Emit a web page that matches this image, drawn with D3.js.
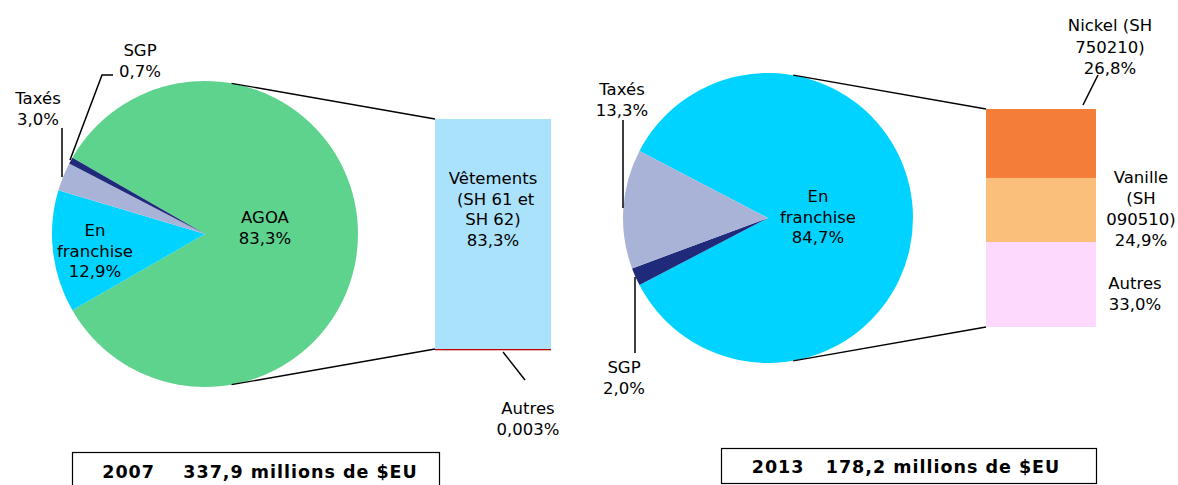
<!DOCTYPE html>
<html>
<head>
<meta charset="utf-8">
<script src="https://cdn.jsdelivr.net/npm/d3@7"></script>
<style>
  body { margin: 0; background: #fff; }
  svg { display: block; font-family: "DejaVu Sans", Verdana, sans-serif; }
</style>
</head>
<body>
<svg id="chart" width="1178" height="485"></svg>
<script>
// 2007 pie: the first slice is split into the bar
var pie07Cats = ["AGOA", "En franchise", "Taxés", "SGP"];
var pie07Vals = [83.3, 12.9, 3.0, 0.7];
var bar07Cats = ["Vêtements (SH 61 et SH 62)", "Autres"];
var bar07Vals = [83.3, 0.003];

// 2013 pie
var pie13Cats = ["En franchise", "SGP", "Taxés"];
var pie13Vals = [84.7, 2.0, 13.3];
var bar13Cats = ["Nickel (SH 750210)", "Vanille (SH 090510)", "Autres"];
var bar13Vals = [26.8, 24.9, 33.0];

var titles = ["2007    337,9 millions de $EU", "2013   178,2 millions de $EU"];

var svg = d3.select("#chart");

var pieColors07 = {"AGOA": "#5dd38e", "En franchise": "#00d3ff", "Taxés": "#a9b3d8", "SGP": "#1f2a7b"};
var pieColors13 = {"En franchise": "#00d3ff", "SGP": "#1f2a7b", "Taxés": "#a9b3d8"};
var barColors07 = ["#abe2fb", "#c00000"];
var barColors13 = ["#f57d3a", "#f9bf7b", "#fdd9fd"];

function drawPieBar(cfg) {
  var total = d3.sum(cfg.vals);
  var first = cfg.vals[0] / total * 2 * Math.PI;
  var start = Math.PI / 2 - first / 2;   // split slice centred on the right
  var pie = d3.pie().sort(null).startAngle(start).endAngle(start + 2 * Math.PI);
  var arc = d3.arc().innerRadius(0).outerRadius(cfg.r);

  var g = svg.append("g").attr("transform", "translate(" + cfg.cx + "," + cfg.cy + ")");
  g.selectAll("path")
    .data(pie(cfg.vals))
    .enter()
    .append("path")
      .attr("d", arc)
      .style("fill", function(d, i) { return cfg.pieColors[cfg.cats[i]]; });

  // bar stacked from top
  var y = d3.scaleLinear().domain([0, d3.sum(cfg.barVals)]).range([cfg.barTop, cfg.barBottom]);
  var cum = 0;
  var stack = cfg.barVals.map(function(v) { var s = cum; cum += v; return [s, cum]; });
  svg.selectAll(null)
    .data(stack)
    .enter()
    .append("rect")
      .attr("x", cfg.barX)
      .attr("width", cfg.barW)
      .attr("y", function(d) { return y(d[0]); })
      .attr("height", function(d) { return Math.max(y(d[1]) - y(d[0]), cfg.minH || 0); })
      .style("fill", function(d, i) { return cfg.barColors[i]; });

  // connector lines
  var a = 80 * Math.PI / 180;
  var pTop = [cfg.cx + cfg.r * Math.cos(-a), cfg.cy + cfg.r * Math.sin(-a)];
  var pBot = [cfg.cx + cfg.r * Math.cos(a), cfg.cy + cfg.r * Math.sin(a)];
  svg.append("line").attr("x1", pTop[0]).attr("y1", pTop[1]).attr("x2", cfg.barX).attr("y2", y(0))
    .attr("stroke", "#000").attr("stroke-width", 1.3);
  svg.append("line").attr("x1", pBot[0]).attr("y1", pBot[1]).attr("x2", cfg.barX).attr("y2", y(d3.sum(cfg.barVals)))
    .attr("stroke", "#000").attr("stroke-width", 1.3);
  return y;
}

function label(x, y, lines, opts) {
  opts = opts || {};
  var t = svg.append("text")
    .attr("x", x).attr("y", y)
    .attr("text-anchor", opts.anchor || "middle")
    .attr("xml:space", "preserve")
    .style("white-space", "pre")
    .style("font-size", (opts.size || 16.5) + "px")
    .style("font-weight", opts.weight || "normal")
    .style("letter-spacing", (opts.ls || 0) + "px")
    .style("fill", "#000");
  lines.forEach(function(l, i) {
    t.append("tspan").attr("x", x).attr("dy", i === 0 ? 0 : (opts.lh || 20.5)).text(l);
  });
}

function leader(pts) {
  svg.append("path")
    .attr("d", d3.line()(pts))
    .attr("fill", "none").attr("stroke", "#000").attr("stroke-width", 1.5);
}

function pct(v) { return String(v).replace(".", ",") + "%"; }
function pct1(v) { return v.toFixed(1).replace(".", ",") + "%"; }

// ---- 2007
drawPieBar({
  cx: 205, cy: 234, r: 153,
  cats: pie07Cats, vals: pie07Vals, pieColors: pieColors07,
  barVals: bar07Vals, barColors: barColors07,
  barX: 435, barW: 116, barTop: 119, barBottom: 349, minH: 1.3
});
label(265, 223, [pie07Cats[0], pct1(pie07Vals[0])]);
label(95, 236, ["En", "franchise", pct1(pie07Vals[1])]);
label(38, 104, [pie07Cats[2], pct1(pie07Vals[2])]);
leader([[62, 128], [62, 177]]);
label(140, 56, [pie07Cats[3], pct1(pie07Vals[3])]);
leader([[70, 160], [102, 75], [113, 75]]);
label(493, 184, ["Vêtements", " (SH 61 et", "SH 62)", pct1(bar07Vals[0])]);
leader([[503, 352], [525, 380]]);
label(528, 414, [bar07Cats[1], pct(bar07Vals[1])]);

// ---- 2013
drawPieBar({
  cx: 768, cy: 218, r: 145,
  cats: pie13Cats, vals: pie13Vals, pieColors: pieColors13,
  barVals: bar13Vals, barColors: barColors13,
  barX: 986, barW: 110, barTop: 109, barBottom: 327
});
label(818, 202, ["En", "franchise", pct1(pie13Vals[0])]);
label(622, 95, [pie13Cats[2], pct1(pie13Vals[2])]);
leader([[623, 120], [623, 208]]);
label(624, 373, [pie13Cats[1], pct1(pie13Vals[1])]);
leader([[635, 277], [635, 353]]);
label(1110, 31, ["Nickel (SH", "750210)", pct1(bar13Vals[0])], {lh: 21.5});
leader([[1098, 75], [1083, 105]]);
label(1141, 183, ["Vanille", "(SH", "090510)", pct1(bar13Vals[1])], {lh: 21});
label(1135, 289, [bar13Cats[2], pct1(bar13Vals[2])]);

// ---- title boxes
svg.append("rect").attr("x", 72.5).attr("y", 452.5).attr("width", 367).attr("height", 40)
  .attr("fill", "none").attr("stroke", "#000").attr("stroke-width", 1.2);
svg.append("rect").attr("x", 721.5).attr("y", 448.5).attr("width", 375).attr("height", 35)
  .attr("fill", "none").attr("stroke", "#000").attr("stroke-width", 1.2);
label(260, 478, [titles[0]], {weight: "bold", size: 17.5, ls: 1});
label(906, 473, [titles[1]], {weight: "bold", size: 17.5, ls: 1});
</script>
</body>
</html>
